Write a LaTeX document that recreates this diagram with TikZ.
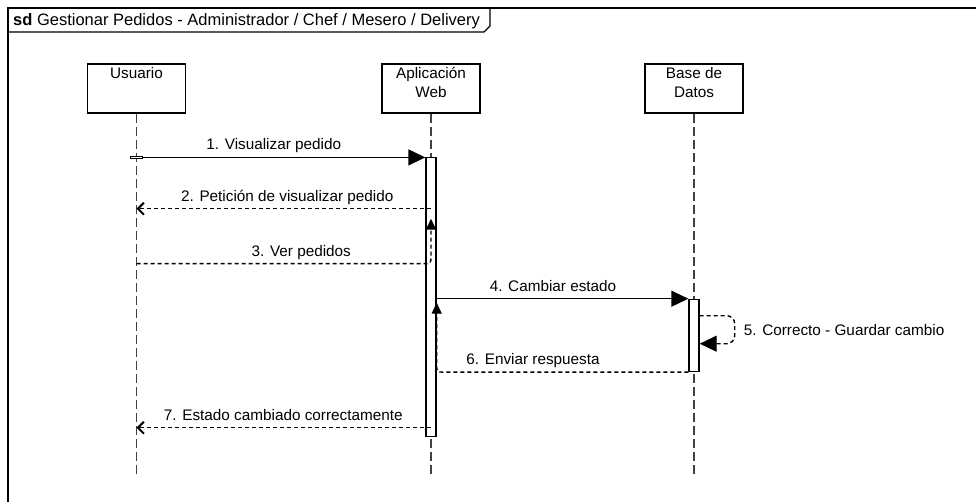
\documentclass[tikz,border=0pt]{standalone}
\usepackage{fontspec}
\setmainfont{Liberation Sans}
\usetikzlibrary{arrows.meta,calc,positioning}
\newcommand{\lblfont}{\fontsize{15.3}{19}\selectfont}
\tikzset{%
  % Specifications for style of nodes:
          head/.style = {rectangle, draw=black, line width=1.4pt,
                         minimum width=98pt, minimum height=49pt, inner sep=0pt},
       headtxt/.style = {anchor=north, inner sep=0pt, align=center, font=\lblfont},
           act/.style = {rectangle, draw=black, fill=white, line width=1.4pt,
                         minimum width=10pt, inner sep=0pt},
           txt/.style = {inner sep=0pt, font=\lblfont},
           lbl/.style = {txt, anchor=base, yshift=7.5pt},
  % Specifications for style of lines:
      lifeline/.style = {draw=black!75, line width=1.4pt, dash pattern=on 9pt off 4pt},
           msg/.style = {line width=1.4pt, -{Triangle[length=17pt,width=16pt]}},
           ret/.style = {line width=1.4pt, dash pattern=on 4pt off 3pt,
                         -{Straight Barb[length=6pt,width=12pt,line width=2pt]}},
          back/.style = {line width=1.4pt, dash pattern=on 4pt off 3pt,
                         -{Triangle[length=11pt,width=10pt]}},
}

\begin{document}
\begin{tikzpicture}[x=1pt, y=-1pt, node distance=263pt]
  \useasboundingbox (0,0) rectangle (976,502);
  % frame, cut off by the page on the right and at the bottom
  \draw[line width=1.6pt] (8,520) -- (8,8) -- (1000,8);
  \draw[line width=1.4pt] (8,32) -- (484,32) -- (490,26) -- (490,8);
  \node (title) [txt, anchor=base west, font=\fontsize{16.5}{19}\selectfont] at (13,26)
        {\textbf{sd} Gestionar Pedidos - Administrador / Chef / Mesero / Delivery};
  % Specification of lifeline heads (position, etc.)
  \node (usr) [head, label={[headtxt]north:{\rule{0pt}{15pt}Usuario}}] at (136.5,88.5) {};
  \node (app) [head, right of=usr, xshift=31.5pt,
               label={[headtxt]north:{\rule{0pt}{15pt}Aplicación\\Web}}] {};
  \node (db)  [head, right of=app,
               label={[headtxt]north:{\rule{0pt}{15pt}Base de\\Datos}}] {};
  \draw[lifeline] (usr.south) -- ++(0,362);
  \draw[lifeline] (app.south) -- ++(0,362);
  \draw[lifeline] (db.south) -- ++(0,362);
  % activations
  \node (usract) [act, minimum width=12pt, minimum height=2pt, anchor=north]
        at ($(usr.south)+(0,42)$) {};
  \node (appact) [act, minimum height=279pt, anchor=north] at ($(app.south)+(0,43)$) {};
  \node (dbact)  [act, minimum height=72pt, anchor=north] at ($(db.south)+(0,185)$) {};
  \coordinate (turn3) at ($(app.south)+(0,150)$);
  \coordinate (turn6) at (dbact.south west -| appact.east);
  % Specification of messages between the lifelines
\draw[msg] (usract.east) --node[lbl, xshift=-10.5pt]{1. Visualizar pedido} (usract.east -| appact.west);
\draw[ret] ($(app.south)+(0,95)$) --node[lbl, xshift=3.5pt]{2. Petición de visualizar pedido}
       ($(usr.south)+(0,95)$);
\draw[back] ($(usr.south)+(0,150)$) --node[lbl, xshift=21.5pt]{3. Ver pedidos}
       ($(turn3)+(-8,0)$) .. controls (turn3) .. ($(turn3)+(0,-8)$) -- ($(app.south)+(0,105)$);
\draw[msg] (dbact.north west -| appact.east) --node[lbl, xshift=-9.5pt]{4. Cambiar estado} (dbact.north west);
\draw[msg, dash pattern=on 4pt off 3pt, rounded corners=8pt] ($(dbact.north east)+(0,17)$)
       -- ++(35,0) -- ++(0,28) -- ($(dbact.north east)+(0,45)$);
  \node (save) [txt, anchor=base west] at ($(dbact.east)+(44,0)$) {5. Correcto - Guardar cambio};
\draw[back] (dbact.south west) --node[lbl, xshift=-33.5pt]{6. Enviar respuesta}
       ($(turn6)+(8,0)$) .. controls (turn6) .. ($(turn6)+(0,-8)$) -- ($(appact.north east)+(0,146)$);
\draw[ret] ($(app.south)+(0,314)$) --node[lbl, xshift=-0.5pt]{7. Estado cambiado correctamente}
       ($(usr.south)+(0,314)$);
\end{tikzpicture}
\end{document}
